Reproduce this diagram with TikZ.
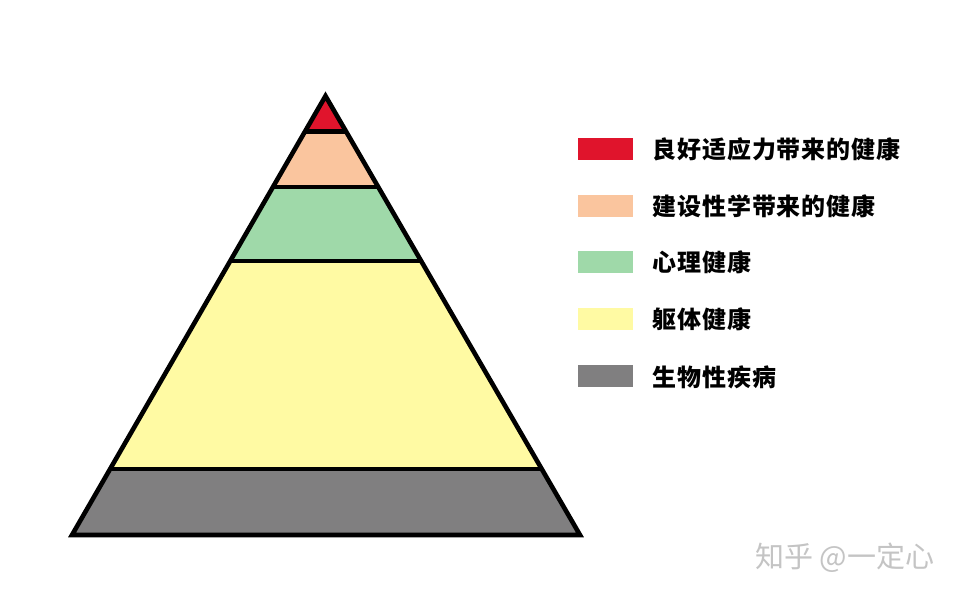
\documentclass[tikz,border=0pt]{standalone}
\usepackage{fontspec}
\newfontfamily\cjk{Noto Sans CJK SC}
\newfontfamily\cjkwide[LetterSpace=4]{Noto Sans CJK SC}
\usetikzlibrary{calc}
\definecolor{cred}{HTML}{E0142C}
\definecolor{corange}{HTML}{FAC59E}
\definecolor{cgreen}{HTML}{9FD9A9}
\definecolor{cyellow}{HTML}{FFFAA3}
\definecolor{cgray}{HTML}{807F80}
\definecolor{wm}{HTML}{C4C4C4}
\begin{document}
\begin{tikzpicture}[x=1pt,y=-1pt,
  edge/.style={line width=4.6pt,line join=miter},
  swatch/.style={minimum width=55pt,minimum height=22pt,inner sep=0pt,anchor=west},
  label/.style={font=\cjkwide\bfseries\fontsize{24}{26}\selectfont,anchor=west,inner sep=0pt}]
\useasboundingbox[fill=white] (0,0) rectangle (959,598);
% pyramid corners
\coordinate (A) at (325.5,96);
\coordinate (L) at (72,535);
\coordinate (R) at (580,535);
% layer boundaries on the edges
\coordinate (l1) at ($(A)!0.0809!(L)$); \coordinate (r1) at ($(A)!0.0809!(R)$);
\coordinate (l2) at ($(A)!0.2073!(L)$); \coordinate (r2) at ($(A)!0.2073!(R)$);
\coordinate (l3) at ($(A)!0.3759!(L)$); \coordinate (r3) at ($(A)!0.3759!(R)$);
\coordinate (l4) at ($(A)!0.8497!(L)$); \coordinate (r4) at ($(A)!0.8497!(R)$);
% fills
\fill[cred] (A) -- (r1) -- (l1) -- cycle;
\fill[corange] (l1) -- (r1) -- (r2) -- (l2) -- cycle;
\fill[cgreen] (l2) -- (r2) -- (r3) -- (l3) -- cycle;
\fill[cyellow] (l3) -- (r3) -- (r4) -- (l4) -- cycle;
\fill[cgray] (l4) -- (r4) -- (R) -- (L) -- cycle;
% boundary lines
\draw[edge] (l1) -- (r1);
\draw[edge] (l2) -- (r2);
\draw[edge] (l3) -- (r3);
\draw[edge] (l4) -- (r4);
\draw[edge] (A) -- (R) -- (L) -- cycle;
% legend
\node[swatch,fill=cred]    (s1) at (578,149) {};
\node[swatch,fill=corange] (s2) at (578,205.5) {};
\node[swatch,fill=cgreen]  (s3) at (578,262) {};
\node[swatch,fill=cyellow] (s4) at (578,319) {};
\node[swatch,fill=cgray]   (s5) at (578,376) {};
\node[label] (t1) at (652,149) {良好适应力带来的健康};
\node[label] (t2) at (652,206) {建设性学带来的健康};
\node[label] (t3) at (652,262) {心理健康};
\node[label] (t4) at (652,319) {躯体健康};
\node[label] (t5) at (652,377) {生物性疾病};
% watermark
\node[font=\cjk\fontsize{29}{31}\selectfont,text=wm,anchor=west,inner sep=0pt] (wmk) at (755,558) {知乎 @一定心};
\end{tikzpicture}
\end{document}
